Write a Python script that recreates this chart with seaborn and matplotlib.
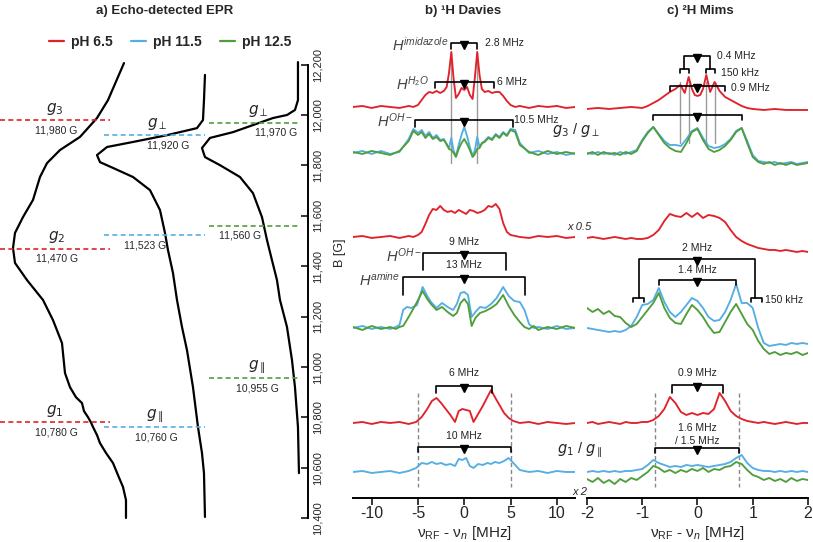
import numpy as np
import matplotlib
matplotlib.use("Agg")
import matplotlib.pyplot as plt
from matplotlib.lines import Line2D
import seaborn as sns

sns.set_theme(style="white")
plt.rcParams['font.family'] = ['Liberation Sans', 'DejaVu Sans']
plt.rcParams['mathtext.fontset'] = 'custom'
plt.rcParams['mathtext.rm'] = 'Liberation Sans'
plt.rcParams['mathtext.it'] = 'Liberation Sans:italic'
plt.rcParams['mathtext.bf'] = 'Liberation Sans:bold'
plt.rcParams['mathtext.fallback'] = 'stixsans'
plt.rcParams['axes.unicode_minus'] = False

RED = "#e0222b"
BLUE = "#55aee4"
GREEN = "#4f9e3c"

# ---------------- a) echo-detected EPR (field in G, intensity in a.u.) ----------------
epr_red_B = [12206, 12059, 11988, 11913, 11861, 11809, 11754, 11663, 11595, 11532, 11472, 11413,
             11345, 11266, 11186, 11095, 10976, 10920, 10880, 10857, 10825, 10801, 10780, 10762,
             10730, 10698, 10659, 10619, 10571, 10524, 10472, 10401]
epr_red_I = [2, 18, 29, 46, 66, 79, 86, 93, 103, 111, 113, 111,
             99, 83, 73, 64, 61, 56, 50, 44, 42, 38, 35, 33,
             29, 26, 20, 13, 8, 3, 0, 0]
epr_blue_B = [12159, 12059, 11980, 11948, 11920, 11893, 11873, 11841, 11813, 11790, 11754, 11702,
              11623, 11532, 11464, 11373, 11266, 11159, 11067, 10920, 10762, 10659, 10579, 10405]
epr_blue_I = [0, 1, 2, 8, 38, 72, 98, 108, 105, 92, 72, 55,
              45, 40, 37, 32, 28, 23, 18, 12, 7, 3, 1, 0]
epr_green_B = [12210, 12059, 12020, 12000, 11988, 11932, 11909, 11869, 11833, 11801, 11754, 11690,
               11595, 11504, 11424, 11345, 11266, 11159, 11028, 10920, 10762, 10579]
epr_green_I = [1, 1, 4, 12, 26, 66, 89, 97, 94, 79, 59, 46,
               37, 32, 27, 22, 19, 12, 7, 4, 1, 0]
g_red = [11980, 11470, 10780]
g_blue = [11920, 11523, 10760]
g_green = [11970, 11560, 10955]
g_red_names = ["$g_3$", "$g_2$", "$g_1$"]
g_blue_names = [r"$g_\perp$", "", r"$g_\parallel$"]
g_green_names = [r"$g_\perp$", "", r"$g_\parallel$"]
B_ticks = [10400, 10600, 10800, 11000, 11200, 11400, 11600, 11800, 12000, 12200]

# ---------------- b) 1H Davies ENDOR (MHz, height above baseline) ----------------
b1_x = [-12, -11, -10, -9, -8, -7, -6, -5.5, -5, -4.6, -4.2, -3.8, -3.4, -3.0, -2.6, -2.2, -1.9,
        -1.65, -1.4, -1.15, -0.9, -0.6, -0.3, 0, 0.3, 0.6, 0.9, 1.15, 1.4, 1.65, 1.9,
        2.2, 2.6, 3.0, 3.4, 3.8, 4.2, 4.6, 5.0, 5.5, 6, 7, 8, 9, 10, 11, 12]
b1_red = [0, 1, -1, 1, 0, -1, 1, 0, 2, 7, 12, 15, 14, 16, 14, 16, 20,
          34, 55, 28, 9, 13, 19, 17, 20, 12, 8, 30, 55, 32, 18,
          15, 16, 14, 15, 15, 11, 6, 2, 0, 1, -1, 1, 0, 1, -1, 0]
b1_blue = [0, 2, -1, 2, -1, 1, 14, 24, 20, 23, 17, 21, 15, 18, 13, 14, 8,
           5, 15, 2, -3, 8, 18, 26, 17, 6, -3, 3, 16, 6, 9,
           12, 16, 14, 19, 16, 21, 18, 24, 23, 10, 0, 2, -1, 1, -2, 0]
b1_green = [1, -1, 2, 0, -2, 2, 12, 22, 18, 21, 15, 19, 14, 16, 12, 13, 9,
            4, 3, 0, -4, 4, 10, 14, 9, 3, -4, -1, 4, 5, 10,
            11, 15, 13, 18, 15, 20, 17, 23, 21, 8, 1, -2, 2, -1, 1, -1]
b2_x = [-12, -11, -10, -9, -8, -7, -6, -5.5, -5, -4.6, -4.2, -3.8, -3.4, -3.0, -2.6, -2.2, -1.8,
        -1.4, -1.0, -0.6, -0.2, 0.2, 0.6, 1.0, 1.4, 1.8, 2.2, 2.6, 3.0, 3.4, 3.8, 4.2, 4.6, 5.0,
        5.5, 6, 7, 8, 9, 10, 11, 12]
b2_red = [0, 1, -1, 0, 1, -1, 1, 0, 2, 5, 13, 22, 28, 27, 31, 27, 25,
          26, 24, 27, 25, 23, 27, 26, 24, 25, 27, 31, 30, 33, 28, 14, 5, 2,
          1, 0, -1, 1, 0, 1, -1, 0]
b3_x = [-12, -11, -10, -9, -8, -7.4, -7, -6.6, -6.2, -5.7, -5.1, -4.5, -4.0, -3.6, -3.0,
        -2.4, -1.8, -1.2, -0.8, -0.4, 0, 0.4, 0.8, 1.2, 1.7, 2.3, 2.9, 3.5, 4.2, 4.8, 5.4,
        6.0, 6.5, 7.0, 7.5, 8, 9, 10, 11, 12]
b3_blue = [0, 2, -1, 1, -1, 1, 3, 18, 21, 20, 23, 41, 32, 26, 20,
           25, 21, 18, 24, 35, 36, 33, 11, 16, 21, 20, 24, 30, 41, 32, 27,
           26, 18, 4, 0, 1, -1, 2, -1, 0]
b3_green = [1, -2, 2, -1, 1, -1, 1, 2, 8, 16, 26, 37, 29, 24, 18,
            21, 16, 12, 15, 25, 29, 24, 2, 10, 15, 17, 20, 24, 33, 22, 13,
            6, 1, -1, 2, -2, 1, -1, 2, 0]
b4_x = [-12, -11, -10, -9, -8, -7, -6, -5.2, -4.6, -4.0, -3.5, -3.0, -2.5, -2.0, -1.5, -1.0,
        -0.6, -0.2, 0.2, 0.6, 1.0, 1.5, 2.0, 2.5, 2.9, 3.3, 3.8, 4.3, 4.8, 5.3,
        6, 7, 8, 9, 10, 11, 12]
b4_red = [0, 1, -1, 1, 0, 1, -1, 1, 6, 14, 22, 25, 20, 14, 8, 1,
          12, 14, 13, 12, 1, 9, 17, 26, 33, 26, 18, 10, 5, 2,
          0, 1, -1, 1, 0, -1, 0]
b4_blue = [0, 1, -1, 0, 1, -1, 1, 4, 9, 8, 10, 8, 9, 7, 8, 6,
           13, 12, 14, 6, 4, 8, 7, 9, 8, 10, 9, 11, 14, 9,
           2, 0, 1, -1, 1, 0, 0]

# ---------------- c) 2H Mims ENDOR ----------------
c_x = [-2.0, -1.9, -1.8, -1.7, -1.6, -1.5, -1.4, -1.3, -1.2, -1.1, -1.0, -0.9, -0.8, -0.7,
       -0.6, -0.5, -0.4, -0.3, -0.2, -0.1, 0.0, 0.1, 0.2, 0.3, 0.4, 0.5, 0.6, 0.7, 0.8, 0.9,
       1.0, 1.1, 1.2, 1.3, 1.4, 1.5, 1.6, 1.7, 1.8, 1.9, 2.0]
c1_x = [-2.0, -1.8, -1.6, -1.4, -1.2, -1.0, -0.9, -0.8, -0.7, -0.6, -0.5, -0.4, -0.31, -0.23,
        -0.16, -0.1, -0.05, 0.0, 0.05, 0.1, 0.16, 0.23, 0.31, 0.4, 0.5, 0.6, 0.7, 0.8, 0.9,
        1.0, 1.2, 1.4, 1.6, 1.8, 2.0]
c1_red = [0, 1, 0, 1, 2, 1, 3, 6, 9, 13, 17, 20, 24, 16,
          32, 20, 14, 13, 14, 20, 34, 17, 27, 18, 12, 9, 6, 3, 1,
          0, -1, 0, -1, -1, -1]
c1_blue = [0, -1, 1, -1, 0, -2, 1, -1, 1, 3, 13, 21, 26, 19, 12, 8, 8, 7, 14, 22,
           25, 15, 7, 5, 6, 9, 14, 22, 25, 12, -2, -8, -9, -10, -9, -11, -10, -9, -11, -10, -9]
c1_green = [-1, 1, -2, 1, -1, 0, -2, 1, -1, 2, 12, 20, 26, 18, 10, 5, 2, 1, 10, 21,
            24, 13, 4, 1, 3, 7, 13, 21, 25, 10, -4, -9, -11, -9, -12, -10, -12, -10, -12, -11, -10]
c2_red = [0, 1, 0, -1, 0, 1, 0, -1, 0, -1, -1, 0, 3, 8, 17, 24, 22, 21, 25, 21,
          25, 20, 23, 22, 20, 16, 8, 1, -3, -6, -8, -10, -11, -12, -12, -13, -12, -13, -14, -13, -14]
c3_blue = [2, 1, 0, -1, -2, -1, -2, 0, 4, 13, 25, 26, 30, 42, 28, 18, 13, 18, 25, 32,
           29, 22, 13, 9, 10, 18, 30, 46, 27, 27, 22, 2, -13, -16, -15, -14, -15, -13, -14, -13, -14]
c3_green = [22, 18, 21, 16, 19, 14, 13, 7, 3, 6, 13, 20, 27, 37, 22, 12, 7, 6, 16, 25,
            20, 13, 4, -3, -2, 8, 18, 26, 16, 6, 0, -11, -19, -24, -22, -25, -23, -24, -22, -25, -23]
c4_red = [0, 1, -1, 0, 1, 0, -1, 1, 0, 0, 1, 1, 3, 7, 14, 26, 20, 11, 8, 10,
          8, 10, 9, 14, 30, 22, 12, 7, 4, 2, 1, 0, 1, 0, -1, 0, 1, 0, -1, 0, 0]
c4_blue = [0, 1, 0, 1, 0, 1, 0, 1, 1, 2, 3, 7, 12, 9, 7, 5, 6, 5, 7, 6,
           7, 6, 5, 6, 7, 8, 10, 14, 17, 9, 4, 2, 1, 1, 0, 1, 0, 1, 0, 1, 0]
c4_green = [-7, -10, -6, -11, -8, -12, -7, -10, -6, -8, -4, 0, 6, 4, 0, 2, -1, 2, 0, 3,
            1, 4, 0, 3, 2, 5, 6, 10, 8, 2, -3, -5, -8, -6, -9, -7, -10, -6, -9, -7, -8]

# vertical offsets of the stacked traces (baseline levels)
base_b = [391, 345, 261, 170, 75, 26]
base_c = [389, 345, 260, 168, 75, 26]

fig = plt.figure(figsize=(8.13, 5.42), dpi=100)
ax_a = fig.add_axes([0.0, 0.0439, 0.3788, 0.8369])
ax_b = fig.add_axes([0.4344, 0.0812, 0.2733, 0.8672])
ax_c = fig.add_axes([0.7220, 0.0812, 0.2718, 0.8672])


def trace(ax, x, h, base, color):
    sns.lineplot(x=x, y=np.asarray(h) + base, color=color, lw=1.35, sort=False,
                 estimator=None, ax=ax)


def bracket(ax, x0, x1, y, drop, tri=True):
    ax.plot([x0, x0, x1, x1], [y - drop, y, y, y - drop], color="black", lw=1.2)
    if tri:
        ax.plot([(x0 + x1) / 2], [y - 2.5], marker="v", color="black", ms=5.5)


def glabel(ax, x, y, s, size=11):
    # g-tensor labels; DejaVu maths keeps the perp/parallel subscripts tight
    ax.text(x, y, s, fontsize=size, ha="center", va="center", math_fontfamily="dejavusans")


ann = dict(fontsize=7.5, color="#222222", va="center")
hlab = dict(fontsize=10.5, color="#444444", va="center", ha="right")

# ---- panel a ----
for B, I, off in [(epr_red_B, epr_red_I, 126), (epr_blue_B, epr_blue_I, 205),
                  (epr_green_B, epr_green_I, 299)]:
    sns.lineplot(x=off - np.asarray(I), y=B, color="black", lw=1.6, sort=False,
                 estimator=None, ax=ax_a)
for line in ax_a.lines:
    line.set_clip_on(False)

ax_a.hlines(g_red, 0, 110, colors=RED, linestyles=(0, (3, 2)), lw=1.2)
ax_a.hlines(g_blue, 104, 205, colors=BLUE, linestyles=(0, (3, 2)), lw=1.2)
ax_a.hlines(g_green, 209, 300, colors=GREEN, linestyles=(0, (3, 2)), lw=1.2)

for B, name, xg, xv in zip(g_red, g_red_names, [55, 57, 55], [56, 57, 56]):
    glabel(ax_a, xg, B + 44, name)
    ax_a.text(xv, B - 40, f"{B:,} G", fontsize=7.5, ha="center", va="center")
for B, name, xg, xv in zip(g_blue, g_blue_names, [157, 157, 155], [168, 145, 156]):
    if name:
        glabel(ax_a, xg, B + 44, name)
    ax_a.text(xv, B - 40, f"{B:,} G", fontsize=7.5, ha="center", va="center")
for B, name, xg, xv in zip(g_green, g_green_names, [258, 258, 257], [276, 240, 257]):
    if name:
        glabel(ax_a, xg, B + 44, name)
    ax_a.text(xv, B - 40, f"{B:,} G", fontsize=7.5, ha="center", va="center")

ax_a.set_xlim(0, 308)
ax_a.set_ylim(10400, 12200)
for s in ["left", "top", "bottom"]:
    ax_a.spines[s].set_visible(False)
ax_a.spines["right"].set_linewidth(1.4)
ax_a.spines["right"].set_color("black")
ax_a.set_xticks([])
ax_a.yaxis.tick_right()
ax_a.set_yticks(B_ticks)
ax_a.set_yticklabels([f"{v:,}" for v in B_ticks])
ax_a.tick_params(axis="y", direction="in", length=5, width=1.3, pad=3, labelsize=8,
                 labelrotation=90, right=True, left=False)
for lab in ax_a.get_yticklabels():
    lab.set_va("center")
ax_a.yaxis.set_label_position("right")
ax_a.set_ylabel("B [G]", fontsize=9, rotation=90)
ax_a.yaxis.set_label_coords(1.085, 0.585)
ax_a.set_xlabel("")

# ---- panel b ----
trace(ax_b, b1_x, b1_red, base_b[0], RED)
trace(ax_b, b1_x, b1_blue, base_b[1], BLUE)
trace(ax_b, b1_x, b1_green, base_b[1], GREEN)
trace(ax_b, b2_x, b2_red, base_b[2], RED)
trace(ax_b, b3_x, b3_blue, base_b[3], BLUE)
trace(ax_b, b3_x, b3_green, base_b[3], GREEN)
trace(ax_b, b4_x, b4_red, base_b[4], RED)
trace(ax_b, b4_x, b4_blue, base_b[5], BLUE)

for xv in (-1.4, 1.4):
    ax_b.plot([xv, xv], [446, 335], color="#9a9a9a", lw=1.0, zorder=0)
for xv in (-5, 5):
    ax_b.plot([xv, xv], [105, 11], color="#888888", lw=1.0, ls=(0, (3, 2)), zorder=0)

bracket(ax_b, -1.4, 1.4, 455, 6)
ax_b.text(-1.7, 453, r"$H^{imidazole}$", **hlab)
ax_b.text(2.25, 455, "2.8 MHz", ha="left", **ann)
bracket(ax_b, -3.2, 3.2, 416, 6)
ax_b.text(-3.8, 414, r"$H^{H_2O}$", **hlab)
ax_b.text(3.55, 416, "6 MHz", ha="left", **ann)
bracket(ax_b, -5.3, 5.3, 378, 7)
ax_b.text(-5.5, 377, r"$H^{OH-}$", **hlab)
ax_b.text(5.4, 378, "10.5 MHz", ha="left", **ann)

bracket(ax_b, -4.5, 4.5, 245, 17)
ax_b.text(0, 256, "9 MHz", ha="center", **ann)
ax_b.text(-4.6, 242, r"$H^{OH-}$", **hlab)
bracket(ax_b, -6.6, 6.6, 221, 18)
ax_b.text(0, 233, "13 MHz", ha="center", **ann)
ax_b.text(-6.9, 218, r"$H^{amine}$", **hlab)

bracket(ax_b, -3, 3, 112, 7)
ax_b.text(0, 125, "6 MHz", ha="center", **ann)
bracket(ax_b, -5, 5, 51, 5)
ax_b.text(0, 62, "10 MHz", ha="center", **ann)

ax_b.set_xlim(-12, 12)
ax_b.set_xticks([-10, -5, 0, 5, 10])
ax_b.set_xlabel(r"ν$_{\rm RF}$ - ν$_{n}$ [MHz]", fontsize=11, labelpad=2)

# ---- panel c ----
trace(ax_c, c1_x, c1_red, base_c[0], RED)
trace(ax_c, c_x, c1_blue, base_c[1], BLUE)
trace(ax_c, c_x, c1_green, base_c[1], GREEN)
trace(ax_c, c_x, c2_red, base_c[2], RED)
trace(ax_c, c_x, c3_blue, base_c[3], BLUE)
trace(ax_c, c_x, c3_green, base_c[3], GREEN)
trace(ax_c, c_x, c4_red, base_c[4], RED)
trace(ax_c, c_x, c4_blue, base_c[5], BLUE)
trace(ax_c, c_x, c4_green, base_c[5], GREEN)

for xv in (-0.31, -0.16, 0.16, 0.31):
    ax_c.plot([xv, xv], [416, 355], color="#9a9a9a", lw=1.0, zorder=0)
for xv in (-0.76, 0.76):
    ax_c.plot([xv, xv], [105, 11], color="#888888", lw=1.0, ls=(0, (3, 2)), zorder=0)

bracket(ax_c, -0.235, 0.235, 442, 13)
bracket(ax_c, -0.31, -0.16, 429, 4, tri=False)
bracket(ax_c, 0.16, 0.31, 429, 4, tri=False)
ax_c.text(0.36, 442, "0.4 MHz", ha="left", **ann)
ax_c.text(0.43, 425, "150 kHz", ha="left", **ann)
bracket(ax_c, -0.5, 0.5, 412, 5)
ax_c.text(0.61, 410, "0.9 MHz", ha="left", **ann)
bracket(ax_c, -0.8, 0.8, 383, 5)
glabel(ax_c, -2.2, 368, r"$g_3$ / $g_\perp$", size=10.5)
ax_c.text(-2.13, 271, "x 0.5", fontsize=8, style="italic", ha="center", va="center")

bracket(ax_c, -1.05, 1.05, 239, 39)
bracket(ax_c, -1.16, -0.96, 200, 4, tri=False)
bracket(ax_c, 0.96, 1.16, 200, 4, tri=False)
ax_c.text(0, 250, "2 MHz", ha="center", **ann)
ax_c.text(1.23, 198, "150 kHz", ha="left", **ann)
bracket(ax_c, -0.7, 0.7, 218, 5)
ax_c.text(0, 228, "1.4 MHz", ha="center", **ann)

bracket(ax_c, -0.46, 0.46, 113, 8)
ax_c.text(0, 125, "0.9 MHz", ha="center", **ann)
bracket(ax_c, -0.76, 0.76, 50, 5)
ax_c.text(0, 70, "1.6 MHz", ha="center", **ann)
ax_c.text(0, 57, "/ 1.5 MHz", ha="center", **ann)
glabel(ax_c, -2.13, 48, r"$g_1$ / $g_\parallel$", size=10.5)
ax_c.text(-2.12, 6, "x 2", fontsize=8, style="italic", ha="center", va="center")

ax_c.set_xlim(-2, 2)
ax_c.set_xticks([-2, -1, 0, 1, 2])
ax_c.set_xlabel(r"ν$_{\rm RF}$ - ν$_{n}$ [MHz]", fontsize=11, labelpad=2)

for ax in (ax_b, ax_c):
    ax.set_ylim(0, 470)
    ax.set_yticks([])
    ax.set_ylabel("")
    for s in ["left", "top", "right"]:
        ax.spines[s].set_visible(False)
    ax.spines["bottom"].set_linewidth(1.4)
    ax.spines["bottom"].set_color("black")
    ax.tick_params(axis="x", direction="out", length=5, width=1.3, labelsize=11.5,
                   pad=1, bottom=True)
    ax.patch.set_alpha(0)

# titles and legend
fig.text(165 / 813, 1 - 11 / 542, "a) Echo-detected EPR", fontsize=9.5, fontweight="bold",
         ha="center", va="center")
fig.text(463 / 813, 1 - 11 / 542, "b) ¹H Davies", fontsize=9.5, fontweight="bold",
         ha="center", va="center")
fig.text(700 / 813, 1 - 11 / 542, "c) ²H Mims", fontsize=9.5, fontweight="bold",
         ha="center", va="center")

handles = [Line2D([], [], color=c, lw=1.6) for c in (RED, BLUE, GREEN)]
fig.legend(handles, ["pH 6.5", "pH 11.5", "pH 12.5"], ncol=3, loc="center",
           bbox_to_anchor=(170 / 813, 1 - 42 / 542), frameon=False, handlelength=1.1,
           handletextpad=0.5, columnspacing=1.3, prop={"weight": "bold", "size": 10})

fig.savefig("out.png", dpi=100)
